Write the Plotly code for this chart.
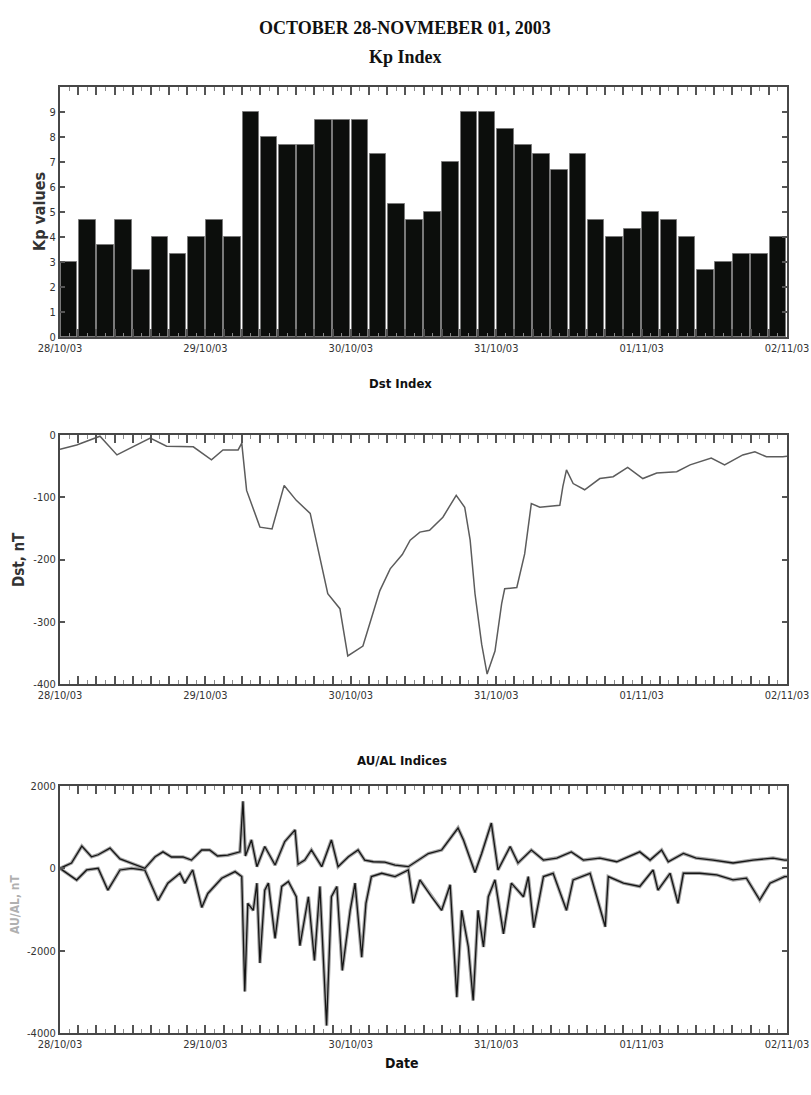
import plotly.graph_objects as go

# ---------------- data ----------------
# Kp index, 3-hourly, 28 Oct 2003 00UT .. 01 Nov 2003 24UT (hours since start)
kp_hours = [1.5 + 3 * i for i in range(40)]
kp_values = [3, 4.67, 3.67, 4.67, 2.67, 4, 3.33, 4, 4.67, 4,
             9, 8, 7.67, 7.67, 8.67, 8.67, 8.67, 7.33, 5.33, 4.67,
             5, 7, 9, 9, 8.33, 7.67, 7.33, 6.67, 7.33, 4.67,
             4, 4.33, 5, 4.67, 4, 2.67, 3, 3.33, 3.33, 4]

# Dst index (nT)
dst_hours = [0, 2.75, 6.6, 9.4, 12, 14.9, 17.6, 22, 25, 26.9, 29.4, 30, 30.8, 33, 35,
             37, 39, 41.3, 42.4, 44.2, 46.2, 47.5, 50, 52.8, 54.5, 56.5, 57.8, 59.4, 61,
             63.2, 65.4, 66.8, 67.7, 68.5, 69.6, 70.5, 71.8, 72.9, 73.4, 75.4, 76.7, 77.8,
             79.2, 82.5, 83, 83.6, 84.7, 86.6, 89.1, 91.3, 93.7, 96.2, 98.5, 101.8, 104,
             107.5, 109.7, 112.7, 114.7, 116.6, 119.3, 120]
dst_values = [-23, -16, -2, -32, -19, -5, -18, -19, -40, -24, -24, -13, -89, -148, -151,
              -81, -105, -126, -175, -255, -279, -355, -339, -250, -215, -192, -169, -156, -153,
              -132, -97, -116, -169, -255, -336, -384, -347, -271, -247, -245, -191, -110,
              -116, -113, -83, -56, -78, -88, -70, -67, -52, -70, -61, -59, -48,
              -37, -48, -32, -27, -35, -35, -34]

# AU index (nT)
au_hours = [0, 1.9, 3.6, 5.2, 6.3, 8.25, 9.9, 12.4, 14, 15.7, 17, 18.4, 20.3, 21.7, 23.4,
            24.7, 26, 27.7, 29.7, 30.2, 30.6, 31.6, 32.5, 33.8, 35.5, 37.1, 38.8, 39.3,
            40.4, 41.5, 43.2, 44.8, 45.9, 47.6, 49.2, 50.3, 51.7, 53.6, 55.3, 57.5, 59.1,
            60.8, 63, 64.6, 65.7, 66.6, 68.5, 69.6, 71.2, 72.3, 74.3, 75.6, 77.8, 79.8,
            82, 84.4, 86.4, 89.1, 91.9, 95.7, 97.4, 99.3, 100.4, 102.9, 105, 107.8, 111.1,
            114.4, 117.7, 119.6, 120]
au_values = [0, 130, 540, 280, 330, 490, 230, 80, 0, 280, 400, 275, 275, 200, 445,
             445, 300, 320, 400, 1630, 300, 690, 40, 530, 80, 650, 935, 100,
             200, 445, 40, 690, 40, 280, 445, 200, 160, 150, 80, 40, 200,
             360, 445, 770, 980, 690, -100, 360, 1100, -40, 530, 130, 445, 200,
             250, 400, 200, 250, 160, 400, 200, 445, 160, 360, 250, 200, 130,
             200, 250, 200, 200]

# AL index (nT)
al_hours = [0, 2.75, 4.4, 6.3, 7.9, 9.9, 11.8, 14, 16.2, 17.8, 19.8, 20.6, 21.9, 23.4,
            24.4, 26.7, 28.9, 30, 30.5, 31, 31.9, 32.5, 33, 33.8, 34.4, 35.5, 36.6, 37.7,
            39, 39.6, 41, 42, 42.9, 44, 44.8, 45.7, 46.6, 47.9, 48.7, 49.8, 50.5, 51.4,
            53.1, 55.3, 57.5, 58.3, 59.4, 61.3, 63, 64.4, 65.5, 66.3, 67.4, 68.2, 69,
            69.9, 70.7, 71.8, 73.2, 74.5, 76.5, 77.3, 78.2, 79.8, 81.4, 83.6, 84.7, 87.5,
            90, 90.5, 93, 95.7, 97.9, 98.7, 100.7, 102, 102.9, 105.6, 108.4, 111.1, 113.3,
            115.5, 117.2, 119.6, 120]
al_values = [0, -285, -40, 0, -530, -40, 0, -40, -780, -360, -120, -360, -40, -950,
             -610, -240, -80, -200, -2990, -850, -1020, -360, -2300, -530, -360, -1700, -440, -320,
             -690, -1880, -690, -2240, -440, -3820, -690, -440, -2480, -1020, -360, -2160, -850, -200,
             -120, -200, -40, -850, -280, -690, -1020, -400, -3130, -1020, -1910, -3210, -1020,
             -1910, -690, -280, -1590, -360, -690, -200, -1440, -200, -120, -1020, -280, -120,
             -1420, -200, -360, -440, -40, -530, -120, -850, -120, -120, -160, -280, -240,
             -770, -360, -200, -200]

# axis labels
day_hours = [0, 24, 48, 72, 96, 120]
day_labels = ["28/10/03", "29/10/03", "30/10/03", "31/10/03", "01/11/03", "02/11/03"]
kp_tickvals = [0, 1, 2, 3, 4, 5, 6, 7, 8, 9]
kp_ticktext = ["0", "1", "2", "3", "4", "5", "6", "7", "8", "9"]
dst_tickvals = [0, -100, -200, -300, -400]
dst_ticktext = ["0", "-100", "-200", "-300", "-400"]
aual_tickvals = [2000, 0, -2000, -4000]
aual_ticktext = ["2000", "0", "-2000", "-4000"]

# ---------------- layout helpers ----------------
W, H = 811, 1095
NARROW = "Liberation Sans Narrow, DejaVu Sans Condensed, Roboto Condensed, Liberation Sans, sans-serif"
SERIF = "Liberation Serif, Times New Roman, serif"


def xdom():
    return [60 / W, 787 / W]


def ydom(top_px, bottom_px):
    return [1 - bottom_px / H, 1 - top_px / H]


major_x = list(range(0, 121, 3))
major_x_text = [day_labels[day_hours.index(h)] if h in day_hours else "" for h in major_x]

base_axis = dict(
    showline=True, linecolor="#474747", linewidth=2, mirror="allticks",
    ticks="inside", tickcolor="#555555", tickwidth=1.5,
    showgrid=False, zeroline=False, automargin=False,
    ticklabeloverflow="allow",
    tickfont=dict(family=NARROW, size=11, color="#333333"),
)


def x_axis(anchor):
    return dict(
        base_axis, domain=xdom(), range=[0, 120], anchor=anchor,
        tickmode="array", tickvals=major_x, ticktext=major_x_text, ticklen=8,
        minor=dict(tickmode="linear", tick0=0, dtick=1.5, ticklen=4,
                   ticks="inside", tickcolor="#8a8a8a", tickwidth=1),
    )


def y_axis(anchor, dom, rng, vals, text):
    return dict(
        base_axis, domain=dom, range=rng, anchor=anchor,
        tickmode="array", tickvals=vals, ticktext=text, ticklen=5,
    )


fig = go.Figure()

# Kp bars
fig.add_trace(go.Bar(
    x=kp_hours, y=kp_values, width=2.75,
    marker=dict(color="#0c0e0c", line=dict(color="#7a7a7a", width=1)),
    xaxis="x", yaxis="y", showlegend=False,
))

# Dst curve
fig.add_trace(go.Scatter(
    x=dst_hours, y=dst_values, mode="lines",
    line=dict(color="#5c5c5c", width=1.5),
    xaxis="x2", yaxis="y2", showlegend=False,
))

# AU / AL curves: soft grey halo under a dark core line
for hrs, vals in ((al_hours, al_values), (au_hours, au_values)):
    fig.add_trace(go.Scatter(
        x=hrs, y=vals, mode="lines",
        line=dict(color="rgba(125,125,125,0.7)", width=3.5),
        xaxis="x3", yaxis="y3", showlegend=False,
    ))
    fig.add_trace(go.Scatter(
        x=hrs, y=vals, mode="lines",
        line=dict(color="#151515", width=1.3),
        xaxis="x3", yaxis="y3", showlegend=False,
    ))

fig.update_layout(
    width=W, height=H,
    margin=dict(l=0, r=0, t=0, b=0, autoexpand=False),
    paper_bgcolor="white", plot_bgcolor="white",
    bargap=0,
    xaxis=x_axis("y"),
    yaxis=y_axis("x", ydom(87, 337), [0, 10], kp_tickvals, kp_ticktext),
    xaxis2=x_axis("y2"),
    yaxis2=y_axis("x2", ydom(435, 684), [-400, 0], dst_tickvals, dst_ticktext),
    xaxis3=x_axis("y3"),
    yaxis3=y_axis("x3", ydom(786, 1033), [-4000, 2000], aual_tickvals, aual_ticktext),
)


def label(text, x_px, y_px, size, family=NARROW, bold=True, angle=0, color="#111111"):
    fig.add_annotation(
        text=f"<b>{text}</b>" if bold else text,
        x=x_px / W, y=1 - y_px / H, xref="paper", yref="paper",
        showarrow=False, textangle=angle, xanchor="center", yanchor="middle",
        font=dict(family=family, size=size, color=color),
    )


label("OCTOBER 28-NOVMEBER 01, 2003", 405, 28, 18, family=SERIF)
label("Kp Index", 405, 57, 18, family=SERIF)
label("Dst Index", 400, 383, 13)
label("AU/AL Indices", 402, 760, 13)
label("Date", 402, 1063, 14)
label("Kp values", 40, 212, 16, angle=-90, color="#333333")
label("Dst, nT", 19, 560, 15, angle=-90, color="#333333")
label("AU/AL, nT", 15, 905, 12, angle=-90, color="#b0b0b0")

fig.write_html("out.html")
